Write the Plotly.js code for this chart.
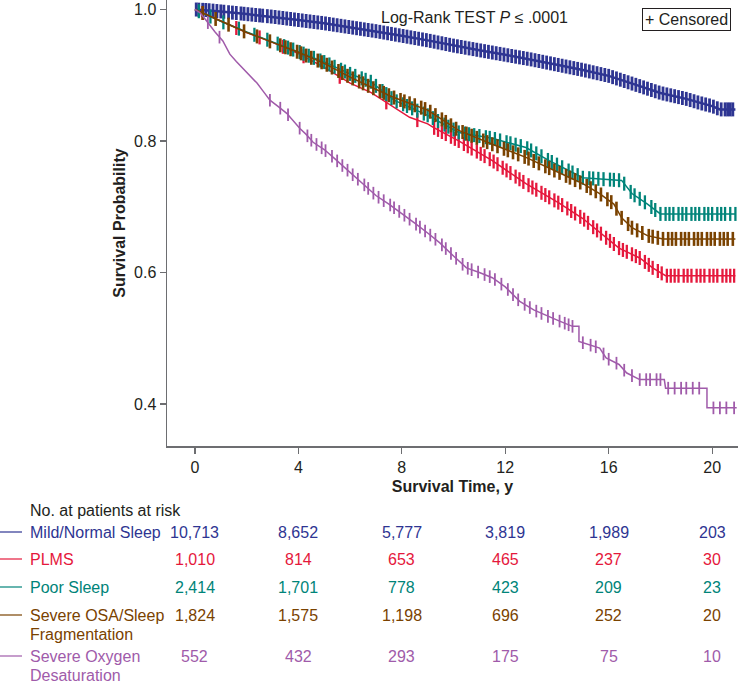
<!DOCTYPE html>
<html>
<head>
<meta charset="utf-8">
<script src="https://cdn.plot.ly/plotly-3.0.1.min.js"></script>
<style>html,body{margin:0;padding:0;background:#fff;}#chart{width:740px;height:684px;}</style>
</head>
<body>
<div id="chart"></div>
<script>
// ---------------- DATA ----------------
const groupNames = ['Mild/Normal Sleep', 'PLMS', 'Poor Sleep', 'Severe OSA/Sleep Fragmentation', 'Severe Oxygen Desaturation'];
const groupLabelLines = [['Mild/Normal Sleep'], ['PLMS'], ['Poor Sleep'], ['Severe OSA/Sleep', 'Fragmentation'], ['Severe Oxygen', 'Desaturation']];
const colors = ['#2E3592', '#E5183C', '#008479', '#7A4200', '#A05BAA'];

const xTicks = [0, 4, 8, 12, 16, 20];
const yTicks = [0.4, 0.6, 0.8, 1.0];
const yTickText = ['0.4', '0.6', '0.8', '1.0'];

// Kaplan-Meier curves (time in years, survival probability)
const blueT = [0, 0.5, 1, 2, 3, 4, 5, 6, 7, 8, 9, 10, 11, 12, 13, 14, 15, 16, 17, 18, 19, 19.5, 20, 20.3, 20.9];
const blueS = [1.0, 0.999, 0.997, 0.993, 0.989, 0.984, 0.979, 0.973, 0.967, 0.960, 0.953, 0.945, 0.938, 0.931, 0.924, 0.916, 0.908, 0.899, 0.886, 0.873, 0.864, 0.858, 0.853, 0.848, 0.848];

const redT = [0, 0.5, 1, 2, 3, 4, 5, 6, 6.8, 7.7, 8.3, 9.0, 9.2, 10.2, 11.5, 12.8, 14.1, 15, 15.7, 16.4, 17.2, 17.7, 18.2, 20.9];
const redS = [1.0, 0.991, 0.982, 0.965, 0.95, 0.933, 0.912, 0.888, 0.874, 0.851, 0.836, 0.826, 0.821, 0.80, 0.77, 0.735, 0.705, 0.682, 0.659, 0.637, 0.622, 0.607, 0.595, 0.595];

const tealT = [0, 0.5, 1, 2, 3, 4, 5, 6, 6.8, 7.7, 9.0, 10.2, 11.5, 12.8, 13.7, 15.0, 16.5, 16.9, 17.5, 18.0, 20.9];
const tealS = [1.0, 0.991, 0.982, 0.966, 0.951, 0.936, 0.92, 0.902, 0.89, 0.862, 0.839, 0.813, 0.804, 0.79, 0.77, 0.744, 0.74, 0.72, 0.704, 0.689, 0.689];

const brownT = [0, 0.5, 1, 2, 3, 4, 5, 6, 6.8, 7.7, 9.0, 10.2, 11.5, 12.8, 14.4, 15.0, 15.65, 16.2, 16.5, 16.9, 17.5, 18.1, 20.9];
const brownS = [1.0, 0.991, 0.982, 0.965, 0.95, 0.935, 0.918, 0.897, 0.882, 0.866, 0.847, 0.816, 0.795, 0.775, 0.746, 0.735, 0.72, 0.704, 0.683, 0.668, 0.656, 0.651, 0.651];

const purpT = [0, 0.2, 0.46, 0.77, 1.08, 1.35, 1.6, 1.86, 2.1, 2.4, 2.65, 2.9, 3.2, 3.55, 4.06, 4.3, 4.57, 5.0, 5.35, 6.0, 6.5, 7.0, 7.5, 8.0, 8.5, 9.0, 9.47, 10.0, 10.5, 11.0, 11.5, 12.0, 12.56, 13.1, 13.6, 14.1, 14.6, 14.85, 14.85, 15.65, 15.9, 16.4, 16.7, 17.2, 18.15, 18.2, 19.8, 19.8, 20.95];
const purpS = [1.0, 0.995, 0.982, 0.966, 0.952, 0.932, 0.921, 0.91, 0.9, 0.888, 0.875, 0.862, 0.853, 0.842, 0.819, 0.81, 0.798, 0.787, 0.775, 0.752, 0.735, 0.717, 0.704, 0.69, 0.675, 0.66, 0.645, 0.625, 0.607, 0.60, 0.592, 0.578, 0.556, 0.543, 0.534, 0.526, 0.518, 0.518, 0.495, 0.485, 0.47, 0.46, 0.447, 0.437, 0.437, 0.424, 0.424, 0.394, 0.394];

// Censoring times
const blueC = [0.05,0.15,0.3,0.42,0.55,0.7,0.85,1.0,1.12,1.3,1.45,1.6,1.78,1.9,2.05,2.2,2.35,2.5,2.62,2.8,2.95,3.1,3.25,3.4,3.55,3.7,3.85,4.0,4.15,4.3,4.45,4.6,4.75,4.9,5.05,5.2,5.35,5.5,5.65,5.8,5.95,6.1,6.25,6.4,6.55,6.7,6.85,7.0,7.15,7.3,7.45,7.6,7.75,7.9,8.05,8.2,8.35,8.5,8.65,8.8,8.95,9.1,9.25,9.4,9.55,9.7,9.85,10.0,10.15,10.3,10.45,10.6,10.75,10.9,11.05,11.2,11.35,11.5,11.65,11.8,11.95,12.1,12.25,12.4,12.55,12.7,12.85,13.0,13.15,13.3,13.45,13.6,13.75,13.9,14.05,14.2,14.35,14.5,14.65,14.8,14.95,15.1,15.25,15.4,15.55,15.7,15.85,16.0,16.15,16.3,16.45,16.6,16.75,16.9,17.05,17.2,17.35,17.5,17.65,17.8,17.95,18.1,18.25,18.4,18.55,18.7,18.85,19.0,19.15,19.3,19.45,19.6,19.75,19.9,20.05,20.2,20.35,20.5,20.6,20.7,20.8];
const redC = [0.3,1.6,2.5,3.4,4.2,5.6,7.4,8.6,9.25,9.4,9.55,9.7,9.9,10.05,10.2,10.4,10.55,10.7,10.9,11.05,11.2,11.4,11.55,11.7,11.9,12.05,12.2,12.4,12.55,12.7,12.9,13.05,13.2,13.4,13.55,13.7,13.9,14.05,14.2,14.4,14.55,14.7,14.9,15.05,15.2,15.4,15.55,15.7,15.9,16.05,16.2,16.4,16.55,16.7,16.9,17.05,17.2,17.4,17.55,17.7,17.9,18.05,18.25,18.4,18.55,18.7,18.9,19.05,19.2,19.4,19.55,19.7,19.9,20.05,20.2,20.4,20.55,20.7,20.85];
const tealC = [0.15,0.6,1.1,1.7,2.3,2.8,3.2,3.45,3.6,3.8,4.05,4.2,4.4,4.6,4.85,5.0,5.2,5.4,5.65,5.8,6.0,6.2,6.45,6.6,6.8,7.0,7.25,7.4,7.6,7.8,8.05,8.2,8.4,8.6,8.85,9.0,9.2,9.4,9.65,9.8,10.0,10.2,10.45,10.6,10.8,11.0,11.25,11.4,11.6,11.8,12.05,12.2,12.4,12.6,12.85,13.0,13.2,13.4,13.65,13.8,14.0,14.2,14.45,14.6,14.8,15.0,15.25,15.4,15.6,15.8,16.05,16.2,16.4,16.6,16.85,17.0,17.2,17.4,17.65,17.8,18.0,18.2,18.35,18.5,18.7,18.85,19.0,19.2,19.35,19.5,19.7,19.85,20.0,20.2,20.35,20.5,20.7,20.9];
const brownC = [0.3,0.8,1.3,1.9,2.4,2.9,3.3,3.5,3.7,3.95,4.1,4.3,4.5,4.75,4.9,5.1,5.3,5.55,5.7,5.9,6.1,6.35,6.5,6.7,6.9,7.15,7.3,7.5,7.7,7.95,8.1,8.3,8.5,8.75,8.9,9.1,9.3,9.55,9.7,9.9,10.1,10.35,10.5,10.7,10.9,11.15,11.3,11.5,11.7,11.95,12.1,12.3,12.5,12.75,12.9,13.1,13.3,13.55,13.7,13.9,14.1,14.35,14.5,14.7,14.9,15.15,15.3,15.5,15.7,15.95,16.1,16.3,16.5,16.75,16.9,17.1,17.3,17.55,17.7,17.9,18.1,18.3,18.45,18.6,18.8,18.95,19.1,19.3,19.45,19.6,19.8,19.95,20.1,20.3,20.45,20.6,20.8];
const purpC = [0.5,0.95,2.9,3.3,3.6,4.05,4.35,4.5,4.7,4.9,5.05,5.3,5.5,5.7,5.9,6.1,6.3,6.55,6.7,6.9,7.1,7.3,7.55,7.7,7.9,8.1,8.3,8.55,8.7,8.9,9.1,9.3,9.55,9.7,9.9,10.1,10.35,10.55,10.7,10.95,11.2,11.4,11.6,11.85,12.1,12.3,12.5,12.75,12.95,13.2,13.4,13.65,13.85,14.1,14.3,14.45,14.6,15.0,15.3,15.5,15.8,16.0,16.3,16.6,16.9,17.2,17.45,17.6,17.85,18.0,18.3,18.55,18.8,19.0,19.25,19.5,20.05,20.3,20.55,20.85];

// Number at risk
const riskMild = [10713, 8652, 5777, 3819, 1989, 203];
const riskPLMS = [1010, 814, 653, 465, 237, 30];
const riskPoor = [2414, 1701, 778, 423, 209, 23];
const riskOSA = [1824, 1575, 1198, 696, 252, 20];
const riskOxy = [552, 432, 293, 175, 75, 10];

// ---------------- BUILD ----------------
const curves = [[blueT, blueS, blueC, riskMild], [redT, redS, redC, riskPLMS], [tealT, tealS, tealC, riskPoor], [brownT, brownS, brownC, riskOSA], [purpT, purpS, purpC, riskOxy]];
const markWidth = [2.8, 2.3, 2.3, 2.6, 1.8];
const markSize = [10, 10, 10, 10, 9];

function interp(T, S, t) {
  for (let i = 0; i < T.length - 1; i++) {
    if (t >= T[i] && t <= T[i + 1]) {
      if (T[i + 1] === T[i]) return S[i + 1];
      const f = (t - T[i]) / (T[i + 1] - T[i]);
      return S[i] + f * (S[i + 1] - S[i]);
    }
  }
  return S[S.length - 1];
}

const FONT = 'Liberation Sans, Arial, Helvetica, sans-serif';
const TXT = '#231F20';
const AX = '#6D6E71';

const traces = [];
curves.forEach((c, i) => {
  traces.push({
    x: c[0], y: c[1], type: 'scatter', mode: 'lines', name: groupNames[i],
    line: {color: colors[i], width: i === 0 ? 2.5 : 1.5}, showlegend: false, hoverinfo: 'skip'
  });
  traces.push({
    x: c[2], y: c[2].map(t => interp(c[0], c[1], t)), type: 'scatter', mode: 'markers',
    name: groupNames[i] + ' censored',
    marker: {symbol: 'line-ns-open', size: markSize[i], color: colors[i], line: {color: colors[i], width: markWidth[i]}},
    showlegend: false, hoverinfo: 'skip'
  });
});

// layout geometry (pixels -> paper)
const L = 167, R = 738, T = 0, B = 446, W = 740, H = 684;
const pw = R - L, ph = B - T;
const px = v => (v - L) / pw;
const py = v => (B - v) / ph;

const annotations = [
  {xref: 'paper', yref: 'paper', x: px(474), y: py(17), text: 'Log-Rank TEST <i>P</i> ≤ .0001', showarrow: false,
   font: {family: FONT, size: 16, color: TXT}, xanchor: 'center', yanchor: 'middle'},
  {xref: 'paper', yref: 'paper', x: px(686), y: py(19), text: '+ Censored', showarrow: false,
   font: {family: FONT, size: 16, color: TXT}, xanchor: 'center', yanchor: 'middle',
   bordercolor: '#231F20', borderwidth: 1, borderpad: 2, bgcolor: '#ffffff'},
  {xref: 'paper', yref: 'paper', x: px(28), y: py(510), text: 'No. at patients at risk', showarrow: false,
   font: {family: FONT, size: 16, color: TXT}, xanchor: 'left', yanchor: 'middle'}
];
const shapes = [];
const rowY = [532, 559, 587, 615, 656];
curves.forEach((c, i) => {
  groupLabelLines[i].forEach((line, k) => {
    annotations.push({xref: 'paper', yref: 'paper', x: px(28), y: py(rowY[i] + k * 19.5), text: line, showarrow: false,
      font: {family: FONT, size: 16, color: colors[i]}, xanchor: 'left', yanchor: 'middle'});
  });
  shapes.push({type: 'line', xref: 'paper', yref: 'paper', x0: px(0), x1: px(22), y0: py(rowY[i]), y1: py(rowY[i]),
    line: {color: colors[i], width: 1.2}});
  c[3].forEach((n, j) => {
    annotations.push({xref: 'x', yref: 'paper', x: xTicks[j], y: py(rowY[i]), text: n.toLocaleString('en-US'), showarrow: false,
      font: {family: FONT, size: 16, color: colors[i]}, xanchor: 'center', yanchor: 'middle'});
  });
});

const layout = {
  width: W, height: H,
  margin: {l: L, r: W - R, t: T, b: H - B, pad: 0},
  paper_bgcolor: '#ffffff', plot_bgcolor: '#ffffff',
  font: {family: FONT, size: 16, color: TXT},
  xaxis: {
    range: [-1.08, 21.0], tickvals: xTicks, ticktext: xTicks.map(String),
    showline: true, linecolor: AX, linewidth: 1.5, ticks: 'outside', ticklen: 6, tickcolor: AX, tickwidth: 1.2,
    showgrid: false, zeroline: false, tickfont: {family: FONT, size: 16, color: TXT},
    title: {text: '<b>Survival Time, y</b>', font: {family: FONT, size: 16, color: TXT}, standoff: 6},
    fixedrange: true
  },
  yaxis: {
    range: [0.336, 1.0144], tickvals: yTicks, ticktext: yTickText,
    showline: true, linecolor: AX, linewidth: 1.5, ticks: 'outside', ticklen: 6, tickcolor: AX, tickwidth: 1.2,
    showgrid: false, zeroline: false, tickfont: {family: FONT, size: 16, color: TXT},
    title: {text: '<b>Survival Probability</b>', font: {family: FONT, size: 16, color: TXT}, standoff: 4},
    fixedrange: true
  },
  annotations: annotations,
  shapes: shapes,
  showlegend: false
};

Plotly.newPlot('chart', traces, layout, {displayModeBar: false, staticPlot: true});
</script>
</body>
</html>
